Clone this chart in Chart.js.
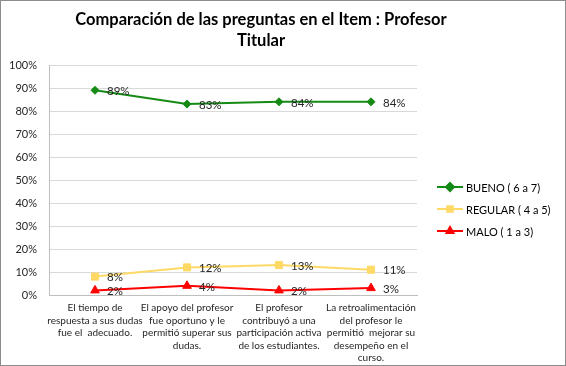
<!DOCTYPE html>
<html>
<head>
<meta charset="utf-8">
<script src="https://cdn.jsdelivr.net/npm/chart.js@4"></script>
<style>
  html, body { margin: 0; padding: 0; background: #fff; }
  #wrap { width: 566px; height: 366px; box-sizing: border-box; border: 1px solid #8c8c8c; position: relative; }
  canvas { display: block; }
</style>
</head>
<body>
<div id="wrap"><canvas id="chart" width="564" height="364"></canvas></div>
<script>
// Preguntas (categorías del eje X)
const preguntas = [
    ['El tiempo de', 'respuesta a sus dudas', 'fue el  adecuado.'],
    ['El apoyo del profesor', 'fue oportuno y le', 'permitió superar sus', 'dudas.'],
    ['El profesor', 'contribuyó a una', 'participación activa', 'de los estudiantes.'],
    ['La retroalimentación', 'del profesor le', 'permitió  mejorar su', 'desempeño en el', 'curso.']
];

// Porcentajes por serie
const bueno = [89, 83, 84, 84];
const regular = [8, 12, 13, 11];
const malo = [2, 4, 2, 3];

const nombres = ['BUENO ( 6 a 7)', 'REGULAR ( 4 a 5)', 'MALO ( 1 a 3)'];
const colores = ['#158a15', '#ffd966', '#ff0000'];
const marcadores = ['rectRot', 'rect', 'triangle'];

const titulo = ['Comparación de las preguntas en el Item : Profesor', 'Titular'];

const fuente = 'Lato, "Open Sans", sans-serif';

// Título centrado sobre todo el gráfico (no solo sobre el área de trazado)
const tituloPlugin = {
    id: 'titulo',
    afterDraw(chart) {
        const ctx = chart.ctx;
        ctx.save();
        ctx.font = 'bold 16.5px ' + fuente;
        ctx.fillStyle = '#000';
        ctx.textAlign = 'center';
        ctx.textBaseline = 'alphabetic';
        titulo.forEach((t, i) => ctx.fillText(t, 260, 24 + i * 21));
        ctx.restore();
    }
};

// Etiquetas de datos a la derecha de cada punto
const etiquetasPlugin = {
    id: 'etiquetas',
    afterDatasetsDraw(chart) {
        const ctx = chart.ctx;
        ctx.save();
        ctx.font = '11.5px ' + fuente;
        ctx.fillStyle = '#262626';
        ctx.textBaseline = 'middle';
        ctx.textAlign = 'left';
        chart.data.datasets.forEach((ds, i) => {
            chart.getDatasetMeta(i).data.forEach((pt, j) => {
                ctx.fillText(ds.data[j] + '%', pt.x + 12, pt.y + 1);
            });
        });
        ctx.restore();
    }
};

// Leyenda dibujada a mano (línea con marcador)
const leyendaPlugin = {
    id: 'leyenda',
    afterDraw(chart) {
        const ctx = chart.ctx;
        ctx.save();
        ctx.font = '11px ' + fuente;
        ctx.textBaseline = 'middle';
        nombres.forEach((n, i) => {
            const x = 436, y = 186 + i * 22;
            ctx.strokeStyle = colores[i];
            ctx.lineWidth = 2;
            ctx.beginPath();
            ctx.moveTo(x, y);
            ctx.lineTo(x + 26, y);
            ctx.stroke();
            ctx.fillStyle = colores[i];
            Chart.helpers.drawPoint(ctx, { pointStyle: marcadores[i], radius: 4, borderWidth: 1, rotation: 0 }, x + 13, y);
            ctx.fillStyle = '#000';
            ctx.fillText(n, x + 29, y + 1);
        });
        ctx.restore();
    }
};

const series = [bueno, regular, malo];

new Chart(document.getElementById('chart').getContext('2d'), {
    type: 'line',
    data: {
        labels: preguntas,
        datasets: series.map((d, i) => ({
            label: nombres[i],
            data: d,
            borderColor: colores[i],
            backgroundColor: colores[i],
            borderWidth: 2,
            pointStyle: marcadores[i],
            pointRadius: i === 0 ? 4 : 5,
            pointBorderWidth: 1,
            tension: 0
        }))
    },
    options: {
        responsive: false,
        animation: false,
        layout: { padding: { left: 8, right: 148, top: 64, bottom: 0 } },
        plugins: {
            legend: { display: false },
            tooltip: { enabled: false },
            title: { display: false }
        },
        scales: {
            x: {
                offset: true,
                grid: { display: false, drawTicks: false },
                border: { color: '#bfbfbf' },
                ticks: {
                    color: '#262626',
                    font: { family: fuente, size: 10, lineHeight: 1.25 },
                    maxRotation: 0,
                    autoSkip: false,
                    padding: 7
                },
                afterFit(scale) {
                    scale.height = 70;
                    scale.paddingLeft = 0;
                    scale.paddingRight = 0;
                }
            },
            y: {
                min: 0,
                max: 100,
                grid: { color: '#d9d9d9', drawTicks: false },
                border: { color: '#bfbfbf' },
                ticks: {
                    stepSize: 10,
                    color: '#262626',
                    font: { family: fuente, size: 11 },
                    padding: 12,
                    callback: v => v + '%'
                },
                afterFit(scale) {
                    scale.width = 40;
                    scale.paddingTop = 0;
                    scale.paddingBottom = 0;
                }
            }
        }
    },
    plugins: [etiquetasPlugin, leyendaPlugin, tituloPlugin]
});
</script>
</body>
</html>
